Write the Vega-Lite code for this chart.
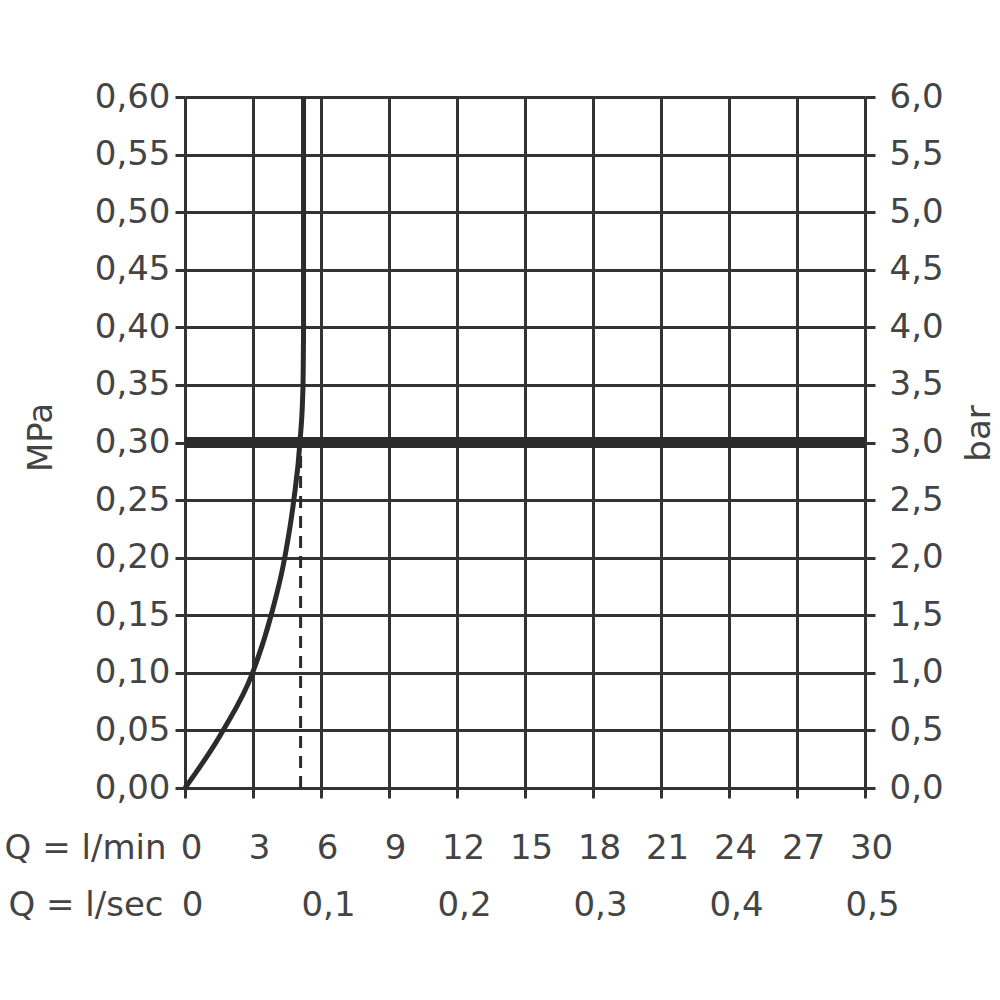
{
  "$schema": "https://vega.github.io/schema/vega-lite/v6.json",
  "autosize": "none",
  "width": 680,
  "height": 691,
  "padding": {"left": 185, "top": 97, "right": 135, "bottom": 212},
  "background": "white",
  "config": {
    "view": {"stroke": null},
    "axis": {
      "labelFont": "DejaVu Sans",
      "labelFontSize": 34,
      "labelColor": "#444444",
      "titleFont": "DejaVu Sans",
      "titleFontSize": 34,
      "titleFontWeight": "normal",
      "titleColor": "#444444",
      "domainColor": "#333333",
      "domainWidth": 3,
      "tickColor": "#333333",
      "tickWidth": 3,
      "gridColor": "#333333",
      "gridWidth": 3,
      "gridOpacity": 1,
      "labelFlush": false,
      "labelOverlap": false,
      "labelBound": false
    }
  },
  "datasets": {
    "curve": [
      {"q": 0, "p": 0},
      {"q": 1.68, "p": 0.05},
      {"q": 2.98, "p": 0.1},
      {"q": 3.8, "p": 0.15},
      {"q": 4.4, "p": 0.2},
      {"q": 4.8, "p": 0.25},
      {"q": 5.07, "p": 0.3},
      {"q": 5.2, "p": 0.345},
      {"q": 5.23, "p": 0.4},
      {"q": 5.23, "p": 0.6}
    ],
    "limit": [{"p": 0.3}],
    "dash": [{"q": 5.1, "p0": 0, "p1": 0.3}],
    "second": [{"s": 0, "bar": 0}]
  },
  "layer": [
    {
      "layer": [
        {
          "data": {"name": "limit"},
          "mark": {"type": "rule", "color": "#2b2b2b", "strokeWidth": 11},
          "encoding": {
            "y": {"field": "p", "type": "quantitative", "scale": {"domain": [0, 0.6]}}
          }
        },
        {
          "data": {"name": "dash"},
          "mark": {"type": "rule", "color": "#2b2b2b", "strokeWidth": 3, "strokeDash": [12, 8]},
          "encoding": {
            "x": {"field": "q", "type": "quantitative"},
            "y": {"field": "p0", "type": "quantitative"},
            "y2": {"field": "p1"}
          }
        },
        {
          "data": {"name": "curve"},
          "mark": {"type": "line", "color": "#2b2b2b", "strokeWidth": 5, "interpolate": "monotone"},
          "encoding": {
            "x": {
              "field": "q", "type": "quantitative",
              "scale": {"domain": [0, 30], "nice": false},
              "axis": {
                "orient": "bottom",
                "values": [0, 3, 6, 9, 12, 15, 18, 21, 24, 27, 30],
                "grid": true,
                "tickSize": 10,
                "labelPadding": 60,
                "labelBaseline": "alphabetic",
                "labelOffset": 6,
                "labelExpr": "format(datum.value, 'd')",
                "title": "Q = l/min",
                "titleAngle": 0,
                "titleAlign": "right",
                "titleBaseline": "alphabetic",
                "titleX": -19,
                "titleY": 70
              }
            },
            "y": {
              "field": "p", "type": "quantitative",
              "scale": {"domain": [0, 0.6], "nice": false},
              "axis": {
                "orient": "left",
                "values": [0, 0.05, 0.1, 0.15, 0.2, 0.25, 0.3, 0.35, 0.4, 0.45, 0.5, 0.55, 0.6],
                "grid": true,
                "tickSize": 10,
                "labelPadding": 5,
                "labelBaseline": "middle",
                "labelExpr": "replace(format(datum.value, '.2f'), '.', ',')",
                "title": "MPa",
                "titleAngle": -90,
                "titleAlign": "center",
                "titleBaseline": "middle",
                "titleX": -144,
                "titleY": 340
              }
            },
            "order": {"field": "p", "type": "quantitative"}
          }
        }
      ]
    },
    {
      "data": {"name": "second"},
      "mark": {"type": "point", "opacity": 0},
      "encoding": {
        "x": {
          "field": "s", "type": "quantitative",
          "scale": {"domain": [0, 0.5], "nice": false},
          "axis": {
            "orient": "bottom",
            "values": [0, 0.1, 0.2, 0.3, 0.4, 0.5],
            "grid": false,
            "domain": false,
            "ticks": false,
            "tickSize": 0,
            "labelPadding": 127,
            "labelBaseline": "alphabetic",
            "labelOffset": 7,
            "labelExpr": "datum.value == 0 ? '0' : replace(format(datum.value, '.1f'), '.', ',')",
            "title": "Q = l/sec",
            "titleAngle": 0,
            "titleAlign": "right",
            "titleBaseline": "alphabetic",
            "titleX": -22,
            "titleY": 127
          }
        },
        "y": {
          "field": "bar", "type": "quantitative",
          "scale": {"domain": [0, 6], "nice": false},
          "axis": {
            "orient": "right",
            "values": [0, 0.5, 1, 1.5, 2, 2.5, 3, 3.5, 4, 4.5, 5, 5.5, 6],
            "grid": false,
            "tickSize": 10,
            "labelPadding": 14,
            "labelBaseline": "middle",
            "labelExpr": "replace(format(datum.value, '.1f'), '.', ',')",
            "title": "bar",
            "titleAngle": -90,
            "titleAlign": "center",
            "titleBaseline": "middle",
            "titleX": 114,
            "titleY": 336
          }
        }
      }
    }
  ],
  "resolve": {
    "scale": {"x": "independent", "y": "independent"},
    "axis": {"x": "independent", "y": "independent"}
  }
}
